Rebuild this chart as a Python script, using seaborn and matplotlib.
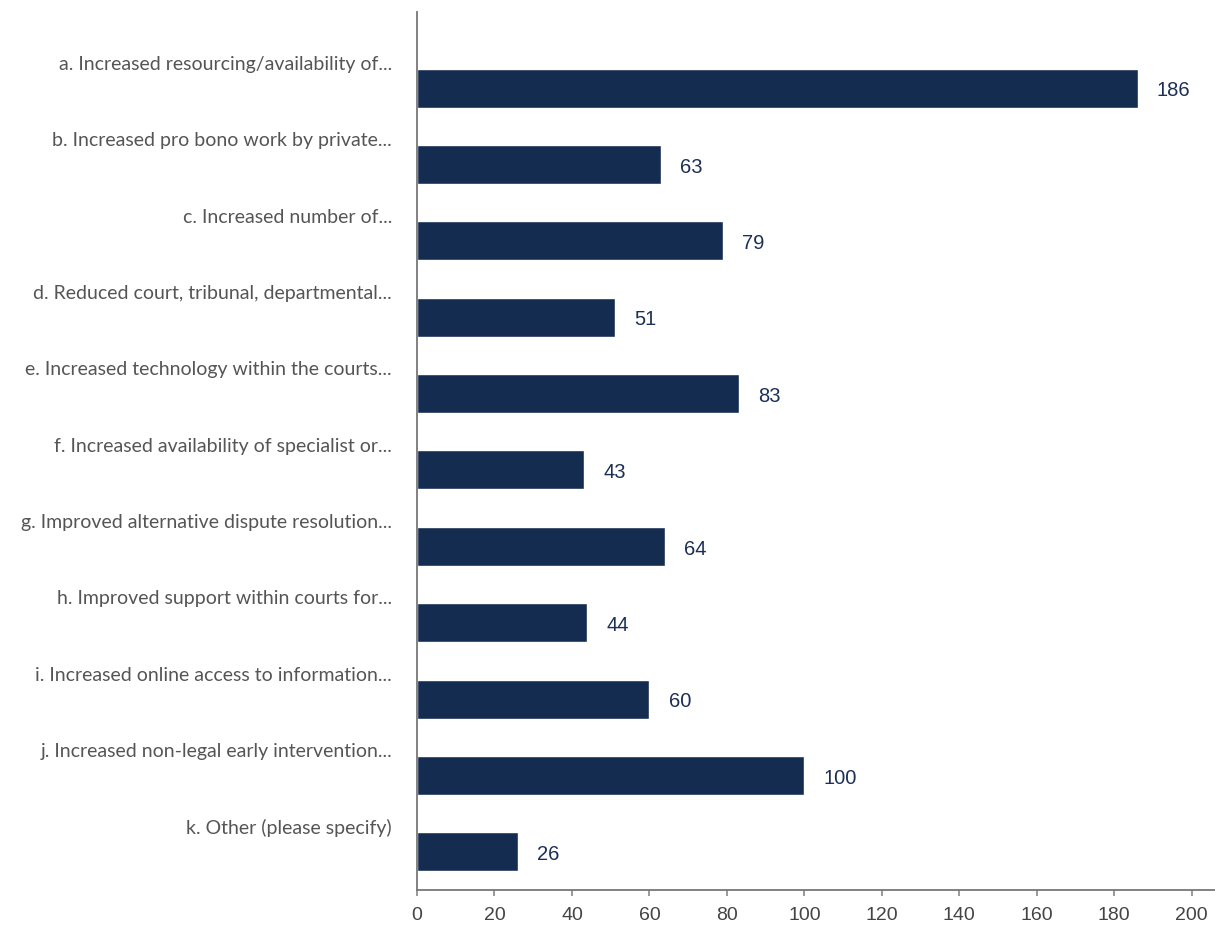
import matplotlib
matplotlib.use("Agg")
import matplotlib.pyplot as plt
import seaborn as sns
import pandas as pd
import numpy as np

categories = [
    "a. Increased resourcing/availability of...",
    "b. Increased pro bono work by private...",
    "c. Increased number of...",
    "d. Reduced court, tribunal, departmental...",
    "e. Increased technology within the courts...",
    "f. Increased availability of specialist or...",
    "g. Improved alternative dispute resolution...",
    "h. Improved support within courts for...",
    "i. Increased online access to information...",
    "j. Increased non-legal early intervention...",
    "k. Other (please specify)",
]
values = [186, 63, 79, 51, 83, 43, 64, 44, 60, 100, 26]
xticks = [0, 20, 40, 60, 80, 100, 120, 140, 160, 180, 200]

sns.set_style("white")
plt.rcParams["font.family"] = ["Liberation Sans", "DejaVu Sans"]

df = pd.DataFrame({"cat": categories, "val": values})

fig = plt.figure(figsize=(12.15, 9.26), dpi=100)
ax = fig.add_axes([417 / 1215, 1 - 890 / 926, 1 - 417 / 1215, (890 - 11.7) / 926])

bar_color = "#152c51"
sns.barplot(data=df, x="val", y="cat", orient="h", color=bar_color,
            width=0.51, saturation=1, ax=ax)

n = len(categories)
ax.set_ylim(n - 0.5, -1.0)
ax.set_xlim(0, 206)

# labels slightly above bars, tick marks at category boundaries
pos = np.arange(n)
ax.set_yticks(pos - 0.33)
ax.set_yticklabels(categories, fontfamily="Lato", fontsize=14, color="#555555")
ax.tick_params(axis="y", which="major", length=0, pad=18)
ax.set_yticks(pos - 0.5, minor=True)
ax.tick_params(axis="y", which="minor", length=5, width=1.2, color="#777777", direction="out")

ax.set_xticks(xticks)
ax.set_xticklabels([str(t) for t in xticks], fontsize=14, color="#444444")
ax.tick_params(axis="x", which="major", length=4.5, width=1.2, color="#888888",
               direction="out", pad=8, bottom=True)

ax.set_xlabel("")
ax.set_ylabel("")

for s in ["top", "right"]:
    ax.spines[s].set_visible(False)
for s in ["left", "bottom"]:
    ax.spines[s].set_visible(True)
    ax.spines[s].set_color("#777777")
    ax.spines[s].set_linewidth(1.3)

for i, v in enumerate(values):
    ax.annotate(str(v), xy=(v, i), xytext=(14, -2), textcoords="offset points",
                ha="left", va="center", fontsize=14.5, color="#1c2f55")

fig.savefig("out.png", dpi=100)
